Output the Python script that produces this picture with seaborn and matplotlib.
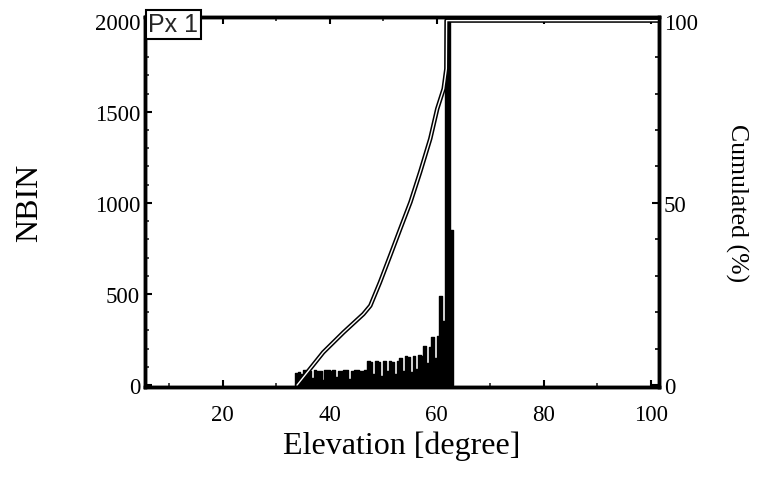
import numpy as np
import pandas as pd
import matplotlib
matplotlib.use("Agg")
import matplotlib.pyplot as plt
import seaborn as sns
from matplotlib.ticker import MultipleLocator

# ---- data ----
bin_start = 33.5
bin_width = 0.5
nbin_counts = [66, 70, 62,
               82, 75, 80, 40, 85, 80, 78, 30, 82, 85, 80, 82,
               45, 80, 78, 84, 82, 35, 80, 85, 82, 78, 80, 84,
               130, 125, 60, 132, 128, 50, 130, 80, 135, 128, 60, 130,
               150, 80, 160, 155, 70, 160, 90, 165, 158,
               215, 120, 210,
               265, 150, 270,
               490, 350,
               3000, 3000,
               850]

cum_elev = [33.9, 38.8, 42.6, 46.3, 47.6, 49.4, 51.3, 53.2, 55.1, 56.9,
            58.8, 60.1, 61.3, 61.8, 61.85, 101.5]
cum_pct = [0, 9.0, 14.5, 19.5, 21.8, 28.2, 35.5, 42.9, 50.2, 58.4,
           67.6, 75.8, 81.3, 86.8, 100, 100]

x_ticks = [20, 40, 60, 80, 100]
y_left_ticks = [0, 500, 1000, 1500, 2000]
y_right_ticks = [0, 50, 100]

# ---- build table ----
n = len(nbin_counts)
edges = bin_start + bin_width * np.arange(n + 1)
centers = edges[:-1] + bin_width / 2
df = pd.DataFrame({"elev": centers, "count": nbin_counts})
cum = pd.DataFrame({"elev": cum_elev, "pct": cum_pct})

sns.set_theme(style="ticks")
plt.rcParams["font.family"] = ["Liberation Serif", "DejaVu Serif"]

fig = plt.figure(figsize=(7.67, 4.85), dpi=100)
ax = fig.add_axes([0.189, 0.200, 0.670, 0.763])

sns.histplot(data=df, x="elev", weights="count", binwidth=bin_width,
             binrange=(edges[0], edges[-1]), element="step",
             fill=True, color="black", alpha=1.0, linewidth=1.0, ax=ax)

ax.set_xlim(5.5, 101.5)
ax.set_ylim(-10, 2020)
ax.set_xticks(x_ticks)
ax.set_yticks(y_left_ticks)
ax.xaxis.set_minor_locator(MultipleLocator(10))
ax.yaxis.set_minor_locator(MultipleLocator(100))
ax.tick_params(axis="both", which="major", direction="in", length=5, width=1.5,
               labelsize=16.5, labelcolor="black", colors="black", top=True)
ax.tick_params(axis="both", which="minor", direction="in", length=3, width=1.2, top=True)
ax.tick_params(axis="x", which="major", pad=12)
ax.tick_params(axis="y", right=False)
ax.set_xlabel("Elevation [degree]", fontsize=23, labelpad=4.5, color="black")
ax.set_ylabel("NBIN", fontsize=23, labelpad=36, color="black")
for s in ax.spines.values():
    s.set_linewidth(2.5)
    s.set_color("black")

ax2 = ax.twinx()
sns.lineplot(data=cum, x="elev", y="pct", color="black", linewidth=3.2, ax=ax2)
sns.lineplot(data=cum, x="elev", y="pct", color="white", linewidth=1.0, ax=ax2)
ax2.set_ylim(-0.5, 101)
ax2.set_yticks(y_right_ticks)
ax2.yaxis.set_minor_locator(MultipleLocator(10))
ax2.tick_params(axis="y", which="major", direction="in", length=5, width=1.5,
                labelsize=16.5, labelcolor="black", colors="black")
ax2.tick_params(axis="y", which="minor", direction="in", length=3, width=1.2, colors="black")
ax2.set_ylabel("Cumulated (%)", fontsize=18.5, rotation=270, labelpad=36, color="black")
ax2.set_xlabel("")
for s in ax2.spines.values():
    s.set_linewidth(2.5)
    s.set_color("black")

fig.text(148 / 767, 1 - 13 / 485, "Px 1", ha="left", va="top",
         fontsize=18, family=["Liberation Sans", "DejaVu Sans"],
         bbox=dict(boxstyle="square,pad=0.1", fc="white", ec="black", lw=1.5),
         zorder=20)

fig.savefig("out.png", dpi=100)
